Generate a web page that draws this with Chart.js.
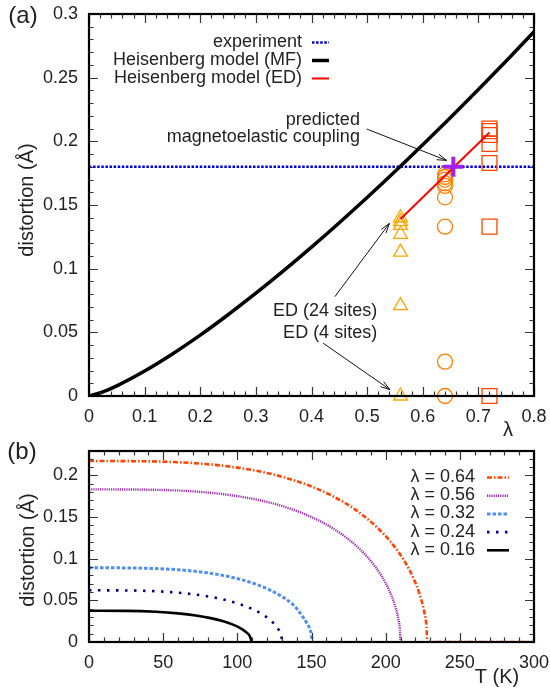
<!DOCTYPE html>
<html>
<head>
<meta charset="utf-8">
<script src="https://cdn.jsdelivr.net/npm/chart.js@4/dist/chart.umd.min.js"></script>
<style>
  body { margin: 0; background: #fff; }
  #wrap { position: relative; width: 550px; height: 693px; }
  canvas { position: absolute; left: 0; }
  #chartA { top: 0; }
  #chartB { top: 440px; }
</style>
</head>
<body>
<div id="wrap">
  <canvas id="chartA" width="550" height="440"></canvas>
  <canvas id="chartB" width="550" height="253"></canvas>
</div>
<script>
  // ---- panel (a): distortion vs lambda ----
  const mfLambda = [0, 0.025, 0.05, 0.1, 0.15, 0.2, 0.25, 0.3, 0.35, 0.4, 0.45, 0.5, 0.55, 0.6, 0.65, 0.7, 0.75, 0.8];
  const mfDist   = [0, 0.0033, 0.008, 0.0196, 0.033, 0.0478, 0.0638, 0.0807, 0.0984, 0.1169, 0.1361, 0.1559, 0.1763, 0.1973, 0.2188, 0.2407, 0.2631, 0.286];
  const expLambda = [0, 0.8];
  const expDist   = [0.18, 0.18];
  const edLambda = [0.56, 0.72];
  const edDist   = [0.139, 0.207];
  const predLambda = [0.655];
  const predDist   = [0.18];
  const tri24Dist = [0.140, 0.137, 0.134, 0.127, 0.113, 0.071, 0];   // lambda = 0.56
  const circDist  = [0.174, 0.172, 0.170, 0.167, 0.165, 0.156, 0.133, 0.027, 0]; // lambda = 0.64
  const sqDist    = [0.210, 0.208, 0.205, 0.198, 0.183, 0.133, 0];  // lambda = 0.72

  // ---- panel (b): distortion vs T ----
  const t064 = [0, 40, 80, 110, 130, 150, 165, 180, 195, 205, 213, 219, 223, 226, 227.5, 228, 300];
  const d064 = [0.217, 0.2166, 0.2132, 0.2062, 0.1982, 0.1864, 0.1742, 0.1581, 0.1361, 0.1165, 0.096, 0.0754, 0.0567, 0.0362, 0.0182, 0, 0];
  const t056 = [0, 40, 80, 110, 130, 150, 165, 180, 190, 197, 202, 206, 208.5, 209.6, 210];
  const d056 = [0.183, 0.1826, 0.1792, 0.1718, 0.1631, 0.1498, 0.1356, 0.1156, 0.0971, 0.0798, 0.0635, 0.0454, 0.028, 0.0145, 0];
  const t032 = [0, 30, 60, 80, 95, 108, 120, 130, 138, 143, 147, 149.5, 150.6];
  const d032 = [0.089, 0.0887, 0.0866, 0.0829, 0.0781, 0.072, 0.064, 0.0545, 0.044, 0.033, 0.022, 0.0125, 0];
  const t024 = [0, 30, 55, 75, 90, 102, 112, 119, 124, 127.5, 129.5, 130.3];
  const d024 = [0.062, 0.0617, 0.0598, 0.0561, 0.0512, 0.0452, 0.0379, 0.0307, 0.0234, 0.0158, 0.0085, 0];
  const t016 = [0, 25, 45, 60, 72, 82, 90, 97, 102, 106, 108.5, 109.7];
  const d016 = [0.0375, 0.0373, 0.0362, 0.0343, 0.0318, 0.0286, 0.0251, 0.0208, 0.0166, 0.0117, 0.0068, 0];

  const FONT = '"Liberation Sans", Arial, sans-serif';
  const INK = '#222';
  Chart.defaults.font.family = FONT;
  Chart.defaults.color = INK;

  const pts = (xs, ys) => xs.map((x, i) => ({ x, y: ys[i] }));
  const col = (x, ys) => ys.map(y => ({ x, y }));
  const fmt = v => String(+(+v).toFixed(3));

  function arrow(ctx, x1, y1, x2, y2) {
    const ang = Math.atan2(y2 - y1, x2 - x1), h = 10, w = 0.3;
    ctx.beginPath();
    ctx.moveTo(x1, y1); ctx.lineTo(x2, y2);
    ctx.moveTo(x2 - h * Math.cos(ang - w), y2 - h * Math.sin(ang - w));
    ctx.lineTo(x2, y2);
    ctx.lineTo(x2 - h * Math.cos(ang + w), y2 - h * Math.sin(ang + w));
    ctx.stroke();
  }

  // gnuplot-like frame, inward ticks, legend, labels
  const gnuFrame = {
    id: 'gnuFrame',
    afterDraw(chart, args, o) {
      const { ctx, chartArea: a, scales: { x, y } } = chart;
      ctx.save();
      ctx.strokeStyle = '#333';
      ctx.lineWidth = 1.2;
      const ticks = (scale, major, minor, horiz) => {
        const n = Math.round((scale.max - scale.min) / minor);
        for (let i = 0; i <= n; i++) {
          const v = scale.min + i * minor;
          if (v > scale.max + 1e-9) break;
          const r = v / major, isMajor = Math.abs(r - Math.round(r)) < 1e-6;
          const len = isMajor ? 9 : 4.5;
          const p = Math.round(scale.getPixelForValue(v)) + 0.5;
          ctx.beginPath();
          if (horiz) {
            ctx.moveTo(p, a.bottom); ctx.lineTo(p, a.bottom - len);
            ctx.moveTo(p, a.top); ctx.lineTo(p, a.top + len);
          } else {
            ctx.moveTo(a.left, p); ctx.lineTo(a.left + len, p);
            ctx.moveTo(a.right, p); ctx.lineTo(a.right - len, p);
          }
          ctx.stroke();
        }
      };
      ticks(x, o.xMajor, o.xMinor, true);
      ticks(y, o.yMajor, o.yMinor, false);
      ctx.strokeStyle = '#000';
      ctx.lineWidth = 2.2;
      ctx.strokeRect(a.left, a.top, a.right - a.left, a.bottom - a.top);

      // arrows (data coordinates)
      ctx.strokeStyle = '#111';
      ctx.lineWidth = 1;
      (o.arrows || []).forEach(ar => arrow(ctx,
        x.getPixelForValue(ar[0]), y.getPixelForValue(ar[1]),
        x.getPixelForValue(ar[2]), y.getPixelForValue(ar[3])));

      // texts
      ctx.fillStyle = INK;
      ctx.textBaseline = 'middle';
      (o.texts || []).forEach(t => {
        ctx.save();
        ctx.font = (t.size || 18) + 'px ' + FONT;
        ctx.textAlign = t.align || 'center';
        const px = t.data ? x.getPixelForValue(t.x) : t.x;
        const py = t.data ? y.getPixelForValue(t.y) : t.y;
        ctx.translate(px, py);
        if (t.rot) ctx.rotate(t.rot);
        ctx.fillText(t.text, 0, 0);
        ctx.restore();
      });

      // legend
      const lg = o.legend;
      if (lg) {
        ctx.font = '18px ' + FONT;
        ctx.textAlign = 'right';
        lg.items.forEach((it, i) => {
          const ds = chart.data.datasets[it.ds];
          const yy = lg.y + i * lg.dy;
          ctx.fillStyle = INK;
          ctx.fillText(it.label, lg.textRight, yy);
          ctx.save();
          ctx.strokeStyle = ds.borderColor;
          ctx.lineWidth = ds.borderWidth;
          ctx.setLineDash(ds.borderDash || []);
          ctx.beginPath();
          ctx.moveTo(lg.x1, yy + 0.5); ctx.lineTo(lg.x2, yy + 0.5);
          ctx.stroke();
          ctx.restore();
        });
      }
      ctx.restore();
    }
  };

  const axis = (min, max, step, isX, size, cut) => ({
    type: 'linear', min, max,
    afterBuildTicks(s) {
      s.ticks = s.ticks.filter(t => t.value <= cut + 1e-9);
      s.min = min; s.max = max;
    },
    afterFit(s) {
      if (isX) s.height = size; else s.width = size;
      s.paddingTop = s.paddingBottom = s.paddingLeft = s.paddingRight = 0;
    },
    grid: { display: false, drawTicks: false },
    border: { display: false },
    ticks: {
      stepSize: step, includeBounds: false, autoSkip: false, maxRotation: 0,
      padding: isX ? 10 : 11, font: { size: 18 }, color: INK, callback: fmt
    }
  });

  new Chart(document.getElementById('chartA'), {
    type: 'scatter',
    data: {
      datasets: [
        { label: 'predicted', data: pts(predLambda, predDist), pointStyle: 'cross', pointRadius: 10,
          borderColor: '#a020f0', borderWidth: 4, clip: false },
        { label: 'Heisenberg model (ED)', data: pts(edLambda, edDist), showLine: true, pointRadius: 0,
          borderColor: '#ff0000', borderWidth: 2 },
        { label: 'ED squares', data: col(0.72, sqDist), pointStyle: 'rect', pointRadius: 10.5,
          borderColor: '#ff4500', borderWidth: 1.3, backgroundColor: 'transparent', clip: false },
        { label: 'ED circles', data: col(0.64, circDist), pointStyle: 'circle', pointRadius: 7.5,
          borderColor: '#ff8000', borderWidth: 1.3, backgroundColor: 'transparent', clip: false },
        { label: 'ED triangles', data: col(0.56, tri24Dist), pointStyle: 'triangle', pointRadius: 8,
          borderColor: '#ffa500', borderWidth: 1.3, backgroundColor: 'transparent', clip: false },
        { label: 'Heisenberg model (MF)', data: pts(mfLambda, mfDist), showLine: true, pointRadius: 0,
          borderColor: '#000', borderWidth: 3.5, cubicInterpolationMode: 'monotone' },
        { label: 'experiment', data: pts(expLambda, expDist), showLine: true, pointRadius: 0,
          borderColor: '#0000dd', borderWidth: 2.6, borderDash: [2.5, 1.6] }
      ]
    },
    options: {
      responsive: false, animation: false, events: [],
      layout: { padding: { top: 13, right: 16, left: 0, bottom: 0 } },
      scales: { x: axis(0, 0.8, 0.1, true, 44, 0.8), y: axis(0, 0.3, 0.05, false, 89, 0.3) },
      plugins: {
        legend: { display: false }, tooltip: { enabled: false },
        gnuFrame: {
          xMajor: 0.1, xMinor: 0.02, yMajor: 0.05, yMinor: 0.01,
          legend: { textRight: 302, x1: 312, x2: 329, y: 42, dy: 18,
            items: [{ label: 'experiment', ds: 6 }, { label: 'Heisenberg model (MF)', ds: 5 },
                    { label: 'Heisenberg model (ED)', ds: 1 }] },
          arrows: [[0.499, 0.2097, 0.643, 0.185], [0.442, 0.078, 0.54, 0.1355], [0.421, 0.0415, 0.541, 0.005]],
          texts: [
            { text: '(a)', x: 23, y: 16, size: 24 },
            { text: 'distortion (Å)', x: 27, y: 200, size: 20, rot: -Math.PI / 2 },
            { text: 'λ', x: 508, y: 430, size: 20 },
            { text: 'predicted', x: 0.487, y: 0.217, align: 'right', data: true },
            { text: 'magnetoelastic coupling', x: 0.487, y: 0.2035, align: 'right', data: true },
            { text: 'ED (24 sites)', x: 0.518, y: 0.0666, align: 'right', data: true },
            { text: 'ED (4 sites)', x: 0.518, y: 0.0493, align: 'right', data: true }
          ]
        }
      }
    },
    plugins: [gnuFrame]
  });

  const curve = (xs, ys, color, dash, width) => ({
    data: pts(xs, ys), showLine: true, pointRadius: 0, borderColor: color,
    borderWidth: width, borderDash: dash, cubicInterpolationMode: 'monotone'
  });

  new Chart(document.getElementById('chartB'), {
    type: 'scatter',
    data: {
      datasets: [
        curve(t064, d064, '#ff4500', [5, 2, 1.5, 2], 2.6),
        curve(t056, d056, '#9c2cb0', [1.2, 1], 2.4),
        curve(t032, d032, '#4f8ff0', [3.5, 2], 3),
        curve(t024, d024, '#00008b', [2.5, 6.5], 2.6),
        curve(t016, d016, '#000', [], 2.6)
      ]
    },
    options: {
      responsive: false, animation: false, events: [],
      layout: { padding: { top: 11, right: 16, left: 0, bottom: 0 } },
      scales: { x: axis(0, 300, 50, true, 51, 300), y: axis(0, 0.229, 0.05, false, 89, 0.2) },
      plugins: {
        legend: { display: false }, tooltip: { enabled: false },
        gnuFrame: {
          xMajor: 50, xMinor: 10, yMajor: 0.05, yMinor: 0.01,
          legend: { textRight: 475, x1: 487, x2: 509, y: 37, dy: 18.2,
            items: [{ label: 'λ = 0.64', ds: 0 }, { label: 'λ = 0.56', ds: 1 }, { label: 'λ = 0.32', ds: 2 },
                    { label: 'λ = 0.24', ds: 3 }, { label: 'λ = 0.16', ds: 4 }] },
          texts: [
            { text: '(b)', x: 22, y: 12, size: 24 },
            { text: 'distortion (Å)', x: 28, y: 110, size: 20, rot: -Math.PI / 2 },
            { text: 'T (K)', x: 497, y: 237, size: 20 }
          ]
        }
      }
    },
    plugins: [gnuFrame]
  });
</script>
</body>
</html>
